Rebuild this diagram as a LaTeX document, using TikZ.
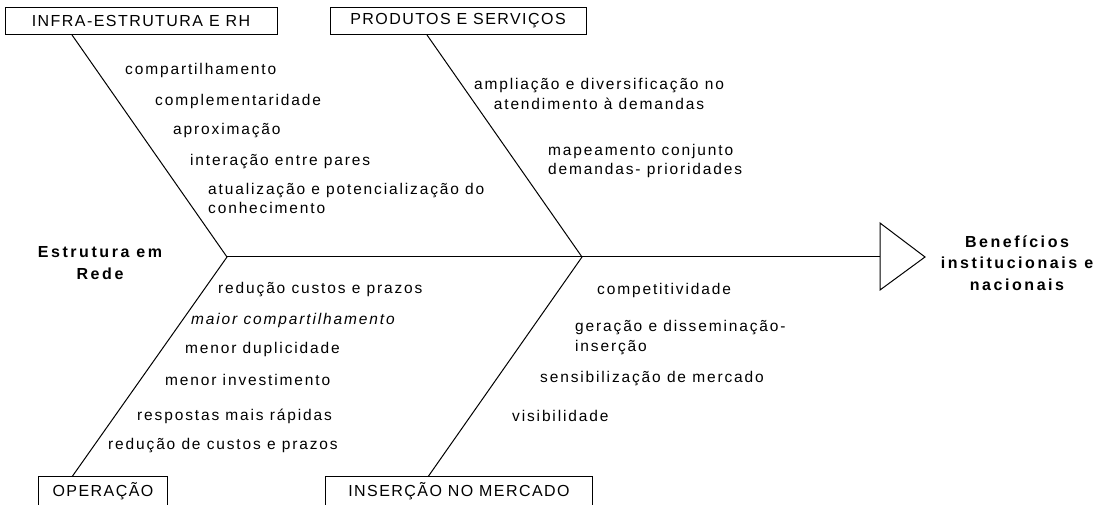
\documentclass[tikz,border=0pt]{standalone}
\usepackage{fontspec}
\setmainfont{Liberation Sans}
\newfontfamily\bodyf[LetterSpace=12]{Liberation Sans}
\newfontfamily\boxf[LetterSpace=9]{Liberation Sans}
\newfontfamily\boldf[LetterSpace=16]{Liberation Sans}
\begin{document}
\begin{tikzpicture}[x=1pt,y=-1pt,
  lab/.style={font=\bodyf\fontsize{15.5}{19.5}\selectfont, inner sep=0pt, anchor=west, align=left},
  catbox/.style={draw, line width=0.9pt, font=\boxf\fontsize{16}{18}\selectfont, minimum height=27pt, inner sep=0pt},
  openbox/.style={font=\boxf\fontsize{16}{18}\selectfont, minimum height=28pt, inner sep=0pt},
  boldlab/.style={font=\boldf\bfseries\fontsize{16}{21.5}\selectfont, align=center, inner sep=0pt},
  bone/.style={line width=1pt}]
\useasboundingbox (0,0) rectangle (1101,505);
% category boxes
\node[catbox, minimum width=272pt] (infra) at (141,21) {INFRA-ESTRUTURA E RH};
\node[catbox, minimum width=256pt] (prod) at (458,21) {PRODUTOS E SERVIÇOS};
\node[openbox, minimum width=128pt] (oper) at (103,491) {OPERAÇÃO};
\node[openbox, minimum width=266pt] (ins) at (459,491) {INSERÇÃO NO MERCADO};
\draw[line width=0.9pt] (oper.south west) |- (oper.north east) -- (oper.south east);
\draw[line width=0.9pt] (ins.south west) |- (ins.north east) -- (ins.south east);
% junctions
\coordinate (j1) at (227,257);
\coordinate (j2) at (582,257);
\coordinate (tri) at (880,257);
% bones
\draw[bone] ([xshift=-69pt]infra.south) -- (j1);
\draw[bone] ([xshift=-31pt]prod.south) -- (j2);
\draw[bone] ([xshift=-31pt]oper.north) -- (j1);
\draw[bone] ([xshift=-31pt]ins.north) -- (j2);
\draw[bone] (j1) -- (tri);
\draw[bone] (tri) ++(0,-34) -- ++(45,34) -- ++(-45,33) -- cycle;
% effect and cause labels
\node[boldlab] (ben) at (1017,263) {Benefícios\\institucionais e\\nacionais};
\node[boldlab] (rede) at (100,263) {Estrutura em\\Rede};
% top-left
\node[lab] (l1) at (125,70) {compartilhamento};
\node[lab] (l2) at (155,101) {complementaridade};
\node[lab] (l3) at (173,131) {aproximação};
\node[lab] (l4) at (190,162) {interação entre pares};
\node[lab] (l5) at (208,198.5) {atualização e potencialização do\\conhecimento};
% top-right
\node[lab, anchor=center, align=center] (r1) at (599,94) {ampliação e diversificação no\\atendimento à demandas};
\node[lab] (r2) at (548,161) {mapeamento conjunto\\demandas- prioridades};
% bottom-left
\node[lab] (b1) at (218,290) {redução custos e prazos};
\node[lab, font=\bodyf\itshape\fontsize{15.5}{19.5}\selectfont] (b2) at (191,320) {maior compartilhamento};
\node[lab] (b3) at (185,349) {menor duplicidade};
\node[lab] (b4) at (165,380) {menor investimento};
\node[lab] (b5) at (137,416) {respostas mais rápidas};
\node[lab] (b6) at (108,446) {redução de custos e prazos};
% bottom-right
\node[lab] (c1) at (597,290) {competitividade};
\node[lab] (c2) at (575,337.5) {geração e disseminação-\\inserção};
\node[lab] (c3) at (540,379) {sensibilização de mercado};
\node[lab] (c4) at (512,416) {visibilidade};
\end{tikzpicture}
\end{document}
